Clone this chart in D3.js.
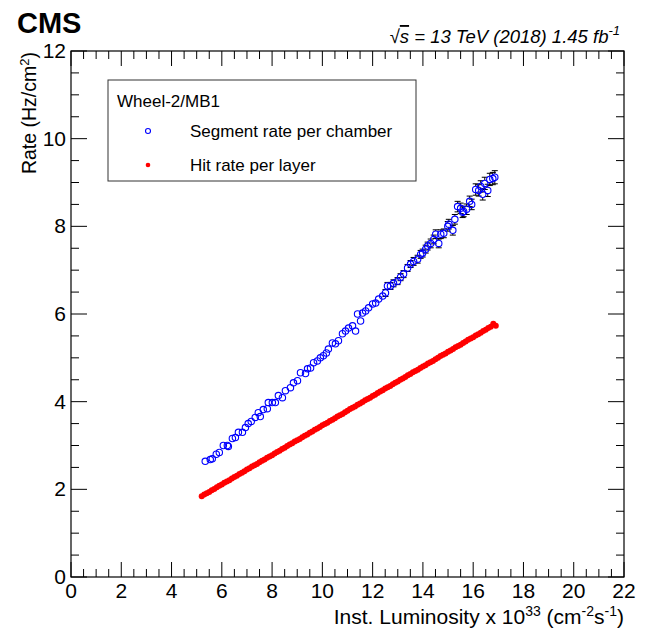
<!DOCTYPE html>
<html><head><meta charset="utf-8">
<script src="https://cdn.jsdelivr.net/npm/d3@7"></script>
<style>body{margin:0;background:#fff;} text{font-family:"Liberation Sans",Arial,sans-serif;}</style>
</head><body><svg id="c" width="646" height="632"></svg>
<script>
// Segment rate per chamber (blue open circles)
const segX = [5.34,5.54,5.62,5.78,5.90,6.06,6.22,6.26,6.42,6.54,6.66,6.82,6.94,7.05,7.17,7.33,7.45,7.53,7.65,7.81,7.85,8.01,8.13,8.25,8.41,8.53,8.73,8.85,9.01,9.13,9.33,9.41,9.53,9.65,9.80,9.92,10.04,10.16,10.24,10.40,10.52,10.64,10.80,10.92,11.04,11.20,11.32,11.40,11.52,11.60,11.72,11.84,12.00,12.12,12.24,12.40,12.51,12.59,12.71,12.83,12.99,13.11,13.23,13.39,13.51,13.63,13.79,13.91,13.99,14.11,14.19,14.31,14.43,14.51,14.63,14.71,14.83,14.99,15.03,15.19,15.27,15.38,15.50,15.58,15.62,15.74,15.86,15.94,16.10,16.22,16.30,16.38,16.46,16.58,16.66,16.78,16.86];
const segY = [2.64,2.68,2.70,2.80,2.84,3.00,3.00,2.98,3.16,3.18,3.30,3.30,3.41,3.50,3.55,3.64,3.75,3.66,3.82,3.84,3.98,3.98,3.98,4.14,4.09,4.25,4.32,4.43,4.48,4.66,4.64,4.75,4.77,4.89,4.93,5.00,5.05,5.11,5.20,5.34,5.32,5.39,5.55,5.61,5.68,5.73,5.61,6.00,5.84,6.02,6.07,6.14,6.23,6.25,6.34,6.41,6.48,6.64,6.64,6.70,6.75,6.84,6.91,7.05,7.14,7.20,7.25,7.36,7.39,7.48,7.55,7.61,7.70,7.82,7.61,7.82,7.84,8.00,8.05,7.91,8.16,8.45,8.41,8.32,8.34,8.39,8.57,8.50,8.84,8.82,8.91,8.73,8.98,8.82,9.07,9.09,9.12];
const segErr = [0.03,0.03,0.03,0.03,0.03,0.03,0.03,0.03,0.03,0.03,0.04,0.04,0.04,0.04,0.04,0.04,0.04,0.04,0.04,0.04,0.04,0.04,0.04,0.05,0.05,0.05,0.05,0.05,0.05,0.05,0.05,0.05,0.05,0.05,0.05,0.05,0.05,0.05,0.06,0.06,0.06,0.06,0.06,0.06,0.06,0.06,0.06,0.07,0.07,0.07,0.07,0.07,0.07,0.07,0.07,0.07,0.08,0.08,0.08,0.08,0.08,0.08,0.08,0.08,0.08,0.09,0.09,0.09,0.09,0.09,0.09,0.10,0.10,0.10,0.10,0.10,0.10,0.11,0.11,0.11,0.11,0.12,0.12,0.12,0.12,0.12,0.12,0.12,0.13,0.13,0.13,0.13,0.14,0.14,0.14,0.14,0.15];
// Hit rate per layer (red filled dots)
const hitX = [5.2,5.3,5.4,5.5,5.6,5.7,5.8,5.9,6.0,6.1,6.2,6.3,6.4,6.5,6.6,6.7,6.8,6.9,7.0,7.1,7.2,7.3,7.4,7.5,7.6,7.7,7.8,7.9,8.0,8.1,8.2,8.3,8.4,8.5,8.6,8.7,8.8,8.9,9.0,9.1,9.2,9.3,9.4,9.5,9.6,9.7,9.8,9.9,10.0,10.1,10.2,10.3,10.4,10.5,10.6,10.7,10.8,10.9,11.0,11.1,11.2,11.3,11.4,11.5,11.6,11.7,11.8,11.9,12.0,12.1,12.2,12.3,12.4,12.5,12.6,12.7,12.8,12.9,13.0,13.1,13.2,13.3,13.4,13.5,13.6,13.7,13.8,13.9,14.0,14.1,14.2,14.3,14.4,14.5,14.6,14.7,14.8,14.9,15.0,15.1,15.2,15.3,15.4,15.5,15.6,15.7,15.8,15.9,16.0,16.1,16.2,16.3,16.4,16.5,16.6,16.7,16.8,16.9];
const hitY = [1.84,1.88,1.91,1.94,1.98,2.01,2.05,2.08,2.11,2.15,2.18,2.21,2.25,2.28,2.31,2.35,2.38,2.41,2.45,2.48,2.52,2.55,2.58,2.62,2.65,2.68,2.72,2.75,2.78,2.82,2.85,2.88,2.92,2.95,2.99,3.02,3.05,3.09,3.12,3.15,3.19,3.22,3.25,3.29,3.32,3.36,3.39,3.42,3.46,3.49,3.52,3.56,3.59,3.62,3.66,3.69,3.72,3.76,3.79,3.83,3.86,3.89,3.93,3.96,3.99,4.03,4.06,4.09,4.13,4.16,4.20,4.23,4.26,4.30,4.33,4.36,4.40,4.43,4.46,4.50,4.53,4.56,4.60,4.63,4.67,4.70,4.73,4.77,4.80,4.83,4.87,4.90,4.93,4.97,5.00,5.04,5.07,5.10,5.14,5.17,5.20,5.24,5.27,5.30,5.34,5.37,5.41,5.44,5.47,5.51,5.54,5.57,5.61,5.64,5.68,5.71,5.78,5.73];
const xTicks = [0,2,4,6,8,10,12,14,16,18,20,22];
const yTicks = [0,2,4,6,8,10,12];

const svg = d3.select("#c");
const L=71,R=624,T=51,B=577;
const x = d3.scaleLinear().domain([0,22]).range([L,R]);
const y = d3.scaleLinear().domain([0,12]).range([B,T]);

// frame
svg.append("rect").attr("x",L).attr("y",T).attr("width",R-L).attr("height",B-T)
  .attr("fill","none").attr("stroke","#000").attr("stroke-width",1.2);

// ticks (inside, all sides)
const xMinor = d3.range(0,22.01,0.5);
const yMinor = d3.range(0,12.01,0.5);
const tk = svg.append("g").attr("stroke","#000").attr("stroke-width",1);
xMinor.forEach(v=>{
  const maj = Math.abs(v/2-Math.round(v/2))<1e-6;
  const len = maj?15:8;
  tk.append("line").attr("x1",x(v)).attr("x2",x(v)).attr("y1",B).attr("y2",B-len);
  tk.append("line").attr("x1",x(v)).attr("x2",x(v)).attr("y1",T).attr("y2",T+len);
});
yMinor.forEach(v=>{
  const maj = Math.abs(v/2-Math.round(v/2))<1e-6;
  const len = maj?16:8;
  tk.append("line").attr("y1",y(v)).attr("y2",y(v)).attr("x1",L).attr("x2",L+len);
  tk.append("line").attr("y1",y(v)).attr("y2",y(v)).attr("x1",R).attr("x2",R-len);
});

// tick labels
svg.append("g").selectAll("text").data(xTicks).join("text")
  .attr("x",d=>x(d)).attr("y",B+21).attr("text-anchor","middle")
  .attr("font-size",21).text(d=>d);
svg.append("g").selectAll("text").data(yTicks).join("text")
  .attr("x",L-5).attr("y",d=>y(d)+7).attr("text-anchor","end")
  .attr("font-size",21).text(d=>d);

// axis titles
const xt = svg.append("text").attr("x",R).attr("y",B+47).attr("text-anchor","end").attr("font-size",21);
xt.append("tspan").text("Inst. Luminosity x 10");
xt.append("tspan").attr("dy",-8).attr("font-size",14).text("33");
xt.append("tspan").attr("dy",8).text(" (cm");
xt.append("tspan").attr("dy",-8).attr("font-size",14).text("-2");
xt.append("tspan").attr("dy",8).text("s");
xt.append("tspan").attr("dy",-8).attr("font-size",14).text("-1");
xt.append("tspan").attr("dy",8).text(")");

const yt = svg.append("text").attr("transform",`translate(${L-35},${T+1}) rotate(-90)`)
  .attr("text-anchor","end").attr("font-size",19.5);
yt.append("tspan").text("Rate (Hz/cm");
yt.append("tspan").attr("dy",-7).attr("font-size",13).text("2");
yt.append("tspan").attr("dy",7).text(")");

// header
svg.append("text").attr("x",17).attr("y",33).attr("font-size",29).attr("font-weight","bold").text("CMS");
const ht = svg.append("text").attr("x",R-4).attr("y",43).attr("text-anchor","end").attr("font-size",18.5).attr("font-style","italic");
ht.append("tspan").text("\u221A");
ht.append("tspan").attr("text-decoration","overline").text("s");
ht.append("tspan").text(" = 13 TeV (2018) 1.45 fb");
ht.append("tspan").attr("dy",-8).attr("font-size",13).text("-1");

// hit rate (red)
svg.append("g").selectAll("circle").data(hitX.map((v,i)=>[v,hitY[i]])).join("circle")
  .attr("cx",d=>x(d[0])).attr("cy",d=>y(d[1])).attr("r",3).attr("fill","#ff0000");

// segment rate error bars
const r0=3.2;
const eb = svg.append("g").attr("stroke","#000").attr("stroke-width",1);
segX.forEach((v,i)=>{
  const cx=x(v), yt1=y(segY[i]+segErr[i]), yb1=y(segY[i]-segErr[i]), cy=y(segY[i]);
  if (cy-yt1>r0){
    eb.append("line").attr("x1",cx).attr("x2",cx).attr("y1",cy-r0).attr("y2",yt1);
    eb.append("line").attr("x1",cx-3).attr("x2",cx+3).attr("y1",yt1).attr("y2",yt1);
    eb.append("line").attr("x1",cx).attr("x2",cx).attr("y1",cy+r0).attr("y2",yb1);
    eb.append("line").attr("x1",cx-3).attr("x2",cx+3).attr("y1",yb1).attr("y2",yb1);
  }
});
svg.append("g").selectAll("circle").data(segX.map((v,i)=>[v,segY[i]])).join("circle")
  .attr("cx",d=>x(d[0])).attr("cy",d=>y(d[1])).attr("r",r0)
  .attr("fill","none").attr("stroke","#0000ff").attr("stroke-width",1.1);

// legend
const lg = svg.append("g");
lg.append("rect").attr("x",108).attr("y",80).attr("width",308).attr("height",101)
  .attr("fill","#fff").attr("stroke","#333").attr("stroke-width",1);
lg.append("text").attr("x",117).attr("y",107).attr("font-size",17).text("Wheel-2/MB1");
lg.append("circle").attr("cx",148).attr("cy",131).attr("r",2.5).attr("fill","none").attr("stroke","#0000ff").attr("stroke-width",1.1);
lg.append("text").attr("x",190).attr("y",137).attr("font-size",17).text("Segment rate per chamber");
lg.append("circle").attr("cx",148).attr("cy",165).attr("r",2.3).attr("fill","#ff0000");
lg.append("text").attr("x",190).attr("y",171).attr("font-size",17).text("Hit rate per layer");
</script></body></html>
